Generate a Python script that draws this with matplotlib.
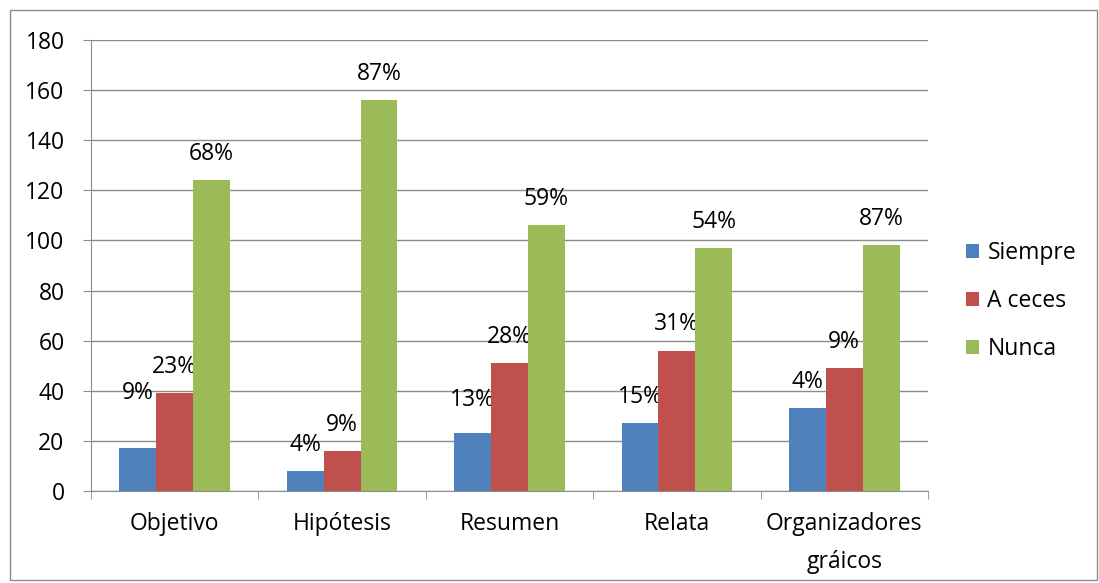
import matplotlib.pyplot as plt
import numpy as np
from matplotlib.patches import Rectangle

categorias = ['Objetivo', 'Hipótesis', 'Resumen', 'Relata', 'Organizadores\ngráicos']
siempre = [17, 8, 23, 27, 33]
a_veces = [39, 16, 51, 56, 49]
nunca = [124, 156, 106, 97, 98]
pct_siempre = ['9%', '4%', '13%', '15%', '4%']
pct_aveces = ['23%', '9%', '28%', '31%', '9%']
pct_nunca = ['68%', '87%', '59%', '54%', '87%']
series = ['Siempre', 'A ceces', 'Nunca']

colores = ['#4f81bd', '#c0504d', '#9bbb59']

plt.rcParams['font.family'] = ['Open Sans', 'DejaVu Sans']
fs = 16.5

fig = plt.figure(figsize=(10.99, 5.83), dpi=100)
fig.patches.append(Rectangle((0.009, 0.006), 0.989, 0.977, transform=fig.transFigure,
                             fill=False, edgecolor='#8c8c8c', linewidth=1))
ax = fig.add_axes([91/1099, 1-491/583, 837/1099, 451/583])

x = np.arange(len(categorias))
w = 0.22
datos = [siempre, a_veces, nunca]
etiquetas = [pct_siempre, pct_aveces, pct_nunca]
# desplazamiento de las etiquetas (pt); la primera de "Siempre" esta mas arriba
desp = [[40, 19, 24, 19, 19], [19] * 5, [19] * 5]
for i in range(3):
    barras = ax.bar(x + (i-1)*w, datos[i], w, color=colores[i], label=series[i], zorder=3)
    for b, t, d in zip(barras, etiquetas[i], desp[i]):
        ax.annotate(t, (b.get_x()+b.get_width()/2, b.get_height()), xytext=(0, d),
                    textcoords='offset points', ha='center', va='center', fontsize=fs)

ax.set_xlim(-0.5, len(categorias)-0.5)
ax.set_ylim(0, 180)
ax.set_yticks(range(0, 181, 20))
ax.yaxis.grid(True, color='#8c8c8c', linewidth=1, zorder=0)
ax.set_xticks(x)
ax.set_xticklabels(categorias, fontsize=fs, linespacing=1.8)
ax.tick_params(axis='x', length=0, pad=15)
ax.set_xticks(np.arange(-0.5, len(categorias)), minor=True)
ax.tick_params(axis='x', which='minor', length=6, color='#8c8c8c')
ax.tick_params(axis='y', length=6, color='#8c8c8c', labelsize=fs, pad=13)
for s in ['top', 'right']:
    ax.spines[s].set_visible(False)
ax.spines['left'].set_color('#8c8c8c')
ax.spines['bottom'].set_color('#8c8c8c')

ax.legend(loc='center left', bbox_to_anchor=(1.045, 0.421), frameon=False, fontsize=fs,
          borderaxespad=0, borderpad=0,
          handlelength=0.6, handleheight=0.6, handletextpad=0.35, labelspacing=1.05)

fig.savefig('out.png', dpi=100)
